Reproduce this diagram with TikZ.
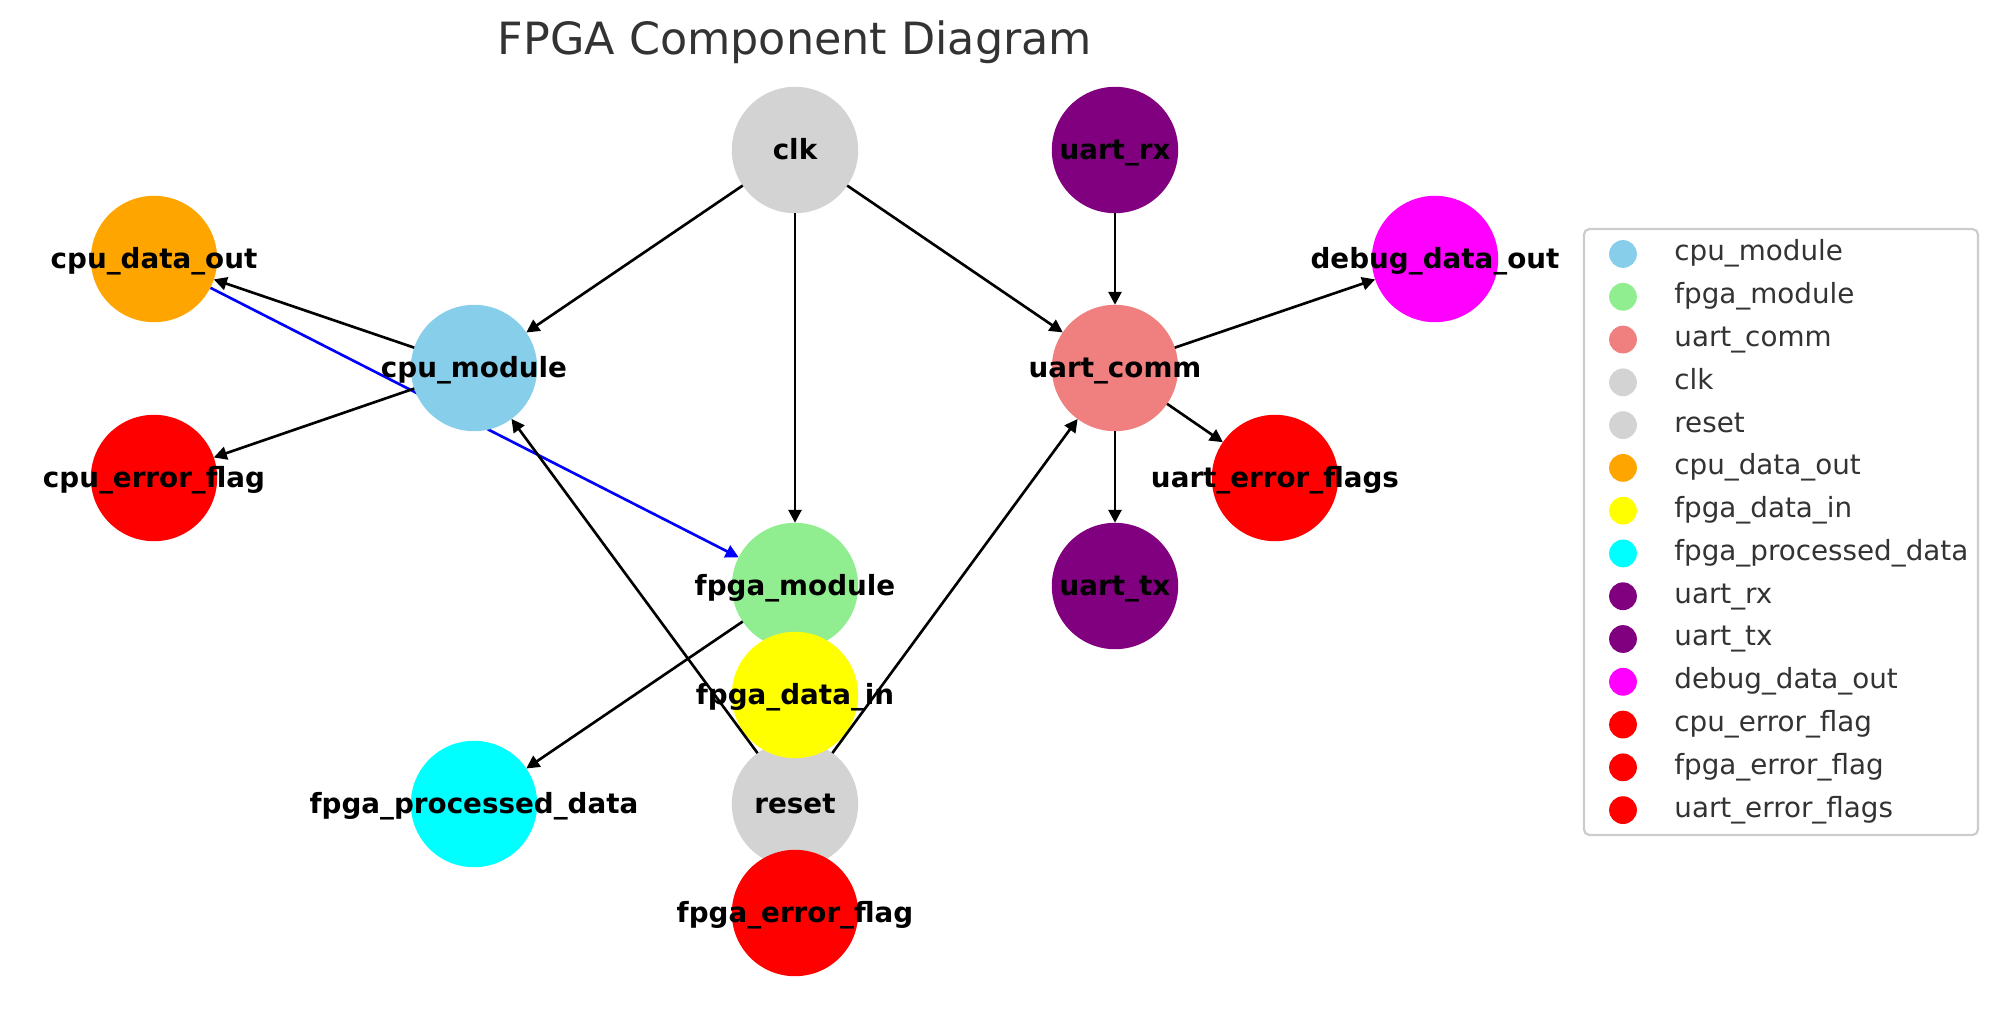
\documentclass[tikz,border=0pt]{standalone}
\usepackage{fontspec}
\setmainfont{DejaVu Sans}
\usetikzlibrary{positioning, arrows.meta}

\pgfdeclarelayer{background}
\pgfsetlayers{background,main}

\definecolor{nxskyblue}{HTML}{87CEEB}
\definecolor{nxgreen}{HTML}{90EE90}
\definecolor{nxcoral}{HTML}{F08080}
\definecolor{nxgray}{HTML}{D3D3D3}
\definecolor{nxorange}{HTML}{FFA500}
\definecolor{nxyellow}{HTML}{FFFF00}
\definecolor{nxcyan}{HTML}{00FFFF}
\definecolor{nxpurple}{HTML}{800080}
\definecolor{nxmagenta}{HTML}{FF00FF}
\definecolor{nxred}{HTML}{FF0000}
\definecolor{nxblue}{HTML}{0000FF}
\definecolor{nxtext}{HTML}{333333}
\definecolor{nxframe}{HTML}{CCCCCC}

\begin{document}
\begin{tikzpicture}
		[
			x=0.36pt, y=-0.36pt,
			comp/.style={circle, minimum size=45.5pt, inner sep=0pt, outer sep=0pt},
			lbl/.style={font=\bfseries, text height=7.6pt, text depth=2.3pt, yshift=-0.6pt},
			wire/.style={line width=0.95pt, -{Triangle[length=4.7pt, width=4.7pt]}},
			key/.style={circle, minimum size=10pt, inner sep=0pt, outer sep=0pt},
			keytext/.style={inner sep=0pt, text=nxtext, text height=7.3pt, text depth=2.3pt}
		]

		\useasboundingbox (0,0) rectangle (1997,1014);

		\node[font=\fontsize{16}{19}\selectfont, text=nxtext] (title) at (795,42) {FPGA Component Diagram};

		% components
		\node[comp, fill=nxskyblue] (cpu) at (474,368) {};
		\node[comp, fill=nxgreen] (fpga) at (795,586) {};
		\node[comp, fill=nxcoral] (uart) at (1115,368) {};
		\node[comp, fill=nxgray] (clk) at (795,150) {};
		\node[comp, fill=nxgray] (reset) at (795,804) {};
		\node[comp, fill=nxorange] (cpuout) at (154,259) {};
		\node[comp, fill=nxyellow] (fpgain) at (795,695) {};
		\node[comp, fill=nxcyan] (fpgaproc) at (474,804) {};
		\node[comp, fill=nxpurple] (rx) at (1115,150) {};
		\node[comp, fill=nxpurple] (tx) at (1115,586) {};
		\node[comp, fill=nxmagenta] (dbg) at (1435,259) {};
		\node[comp, fill=nxred] (cpuerr) at (154,478) {};
		\node[comp, fill=nxred] (fpgaerr) at (795,913) {};
		\node[comp, fill=nxred] (uarterr) at (1275,478) {};

		\begin{pgfonlayer}{background}
			\draw[wire, nxblue] (cpuout) -- (fpga);
		\end{pgfonlayer}

		\draw[wire] (clk) -- (cpu);
		\draw[wire] (clk) -- (fpga);
		\draw[wire] (clk) -- (uart);
		\draw[wire] (rx) -- (uart);
		\draw[wire] (uart) -- (dbg);
		\draw[wire] (uart) -- (uarterr);
		\draw[wire] (uart) -- (tx);
		\draw[wire] (cpu) -- (cpuout);
		\draw[wire] (cpu) -- (cpuerr);
		\draw[wire] (fpga) -- (fpgaproc);
		\draw[wire] (reset) -- (cpu);
		\draw[wire] (reset) -- (uart);

		% names on top
		\node[lbl] (cpu-t) at (cpu) {cpu\_module};
		\node[lbl] (fpga-t) at (fpga) {fpga\_module};
		\node[lbl] (uart-t) at (uart) {uart\_comm};
		\node[lbl] (clk-t) at (clk) {clk};
		\node[lbl] (reset-t) at (reset) {reset};
		\node[lbl] (cpuout-t) at (cpuout) {cpu\_data\_out};
		\node[lbl] (fpgain-t) at (fpgain) {fpga\_data\_in};
		\node[lbl] (fpgaproc-t) at (fpgaproc) {fpga\_processed\_data};
		\node[lbl] (rx-t) at (rx) {uart\_rx};
		\node[lbl] (tx-t) at (tx) {uart\_tx};
		\node[lbl] (dbg-t) at (dbg) {debug\_data\_out};
		\node[lbl] (cpuerr-t) at (cpuerr) {cpu\_error\_flag};
		\node[lbl] (fpgaerr-t) at (fpgaerr) {fpga\_error\_flag};
		\node[lbl] (uarterr-t) at (uarterr) {uart\_error\_flags};

		% legend
		\draw[nxframe, line width=0.8pt, rounded corners=2pt, fill=white] (1584,229) rectangle (1978,835);
		\node[key, fill=nxskyblue] (k1) at (1623,254) {};
		\node[key, fill=nxgreen, below=5.4pt of k1] (k2) {};
		\node[key, fill=nxcoral, below=5.4pt of k2] (k3) {};
		\node[key, fill=nxgray, below=5.4pt of k3] (k4) {};
		\node[key, fill=nxgray, below=5.4pt of k4] (k5) {};
		\node[key, fill=nxorange, below=5.4pt of k5] (k6) {};
		\node[key, fill=nxyellow, below=5.4pt of k6] (k7) {};
		\node[key, fill=nxcyan, below=5.4pt of k7] (k8) {};
		\node[key, fill=nxpurple, below=5.4pt of k8] (k9) {};
		\node[key, fill=nxpurple, below=5.4pt of k9] (k10) {};
		\node[key, fill=nxmagenta, below=5.4pt of k10] (k11) {};
		\node[key, fill=nxred, below=5.4pt of k11] (k12) {};
		\node[key, fill=nxred, below=5.4pt of k12] (k13) {};
		\node[key, fill=nxred, below=5.4pt of k13] (k14) {};

		\node[keytext, right=13.3pt of k1] (t1) {cpu\_module};
		\node[keytext, right=13.3pt of k2] (t2) {fpga\_module};
		\node[keytext, right=13.3pt of k3] (t3) {uart\_comm};
		\node[keytext, right=13.3pt of k4] (t4) {clk};
		\node[keytext, right=13.3pt of k5] (t5) {reset};
		\node[keytext, right=13.3pt of k6] (t6) {cpu\_data\_out};
		\node[keytext, right=13.3pt of k7] (t7) {fpga\_data\_in};
		\node[keytext, right=13.3pt of k8] (t8) {fpga\_processed\_data};
		\node[keytext, right=13.3pt of k9] (t9) {uart\_rx};
		\node[keytext, right=13.3pt of k10] (t10) {uart\_tx};
		\node[keytext, right=13.3pt of k11] (t11) {debug\_data\_out};
		\node[keytext, right=13.3pt of k12] (t12) {cpu\_error\_flag};
		\node[keytext, right=13.3pt of k13] (t13) {fpga\_error\_flag};
		\node[keytext, right=13.3pt of k14] (t14) {uart\_error\_flags};
	\end{tikzpicture}
\end{document}
